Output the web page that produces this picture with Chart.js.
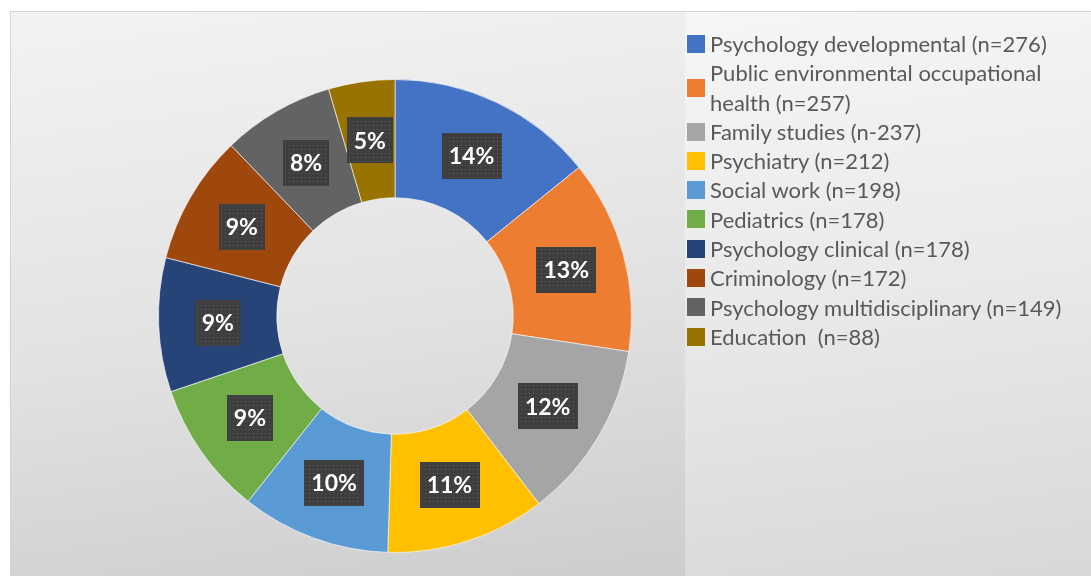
<!DOCTYPE html>
<html>
<head>
<meta charset="utf-8">
<script src="https://cdn.jsdelivr.net/npm/chart.js@4/dist/chart.umd.min.js"></script>
<style>
  html, body { margin: 0; padding: 0; background: #fff; }
  #wrap { position: relative; width: 1091px; height: 576px; overflow: hidden; }
  #bg { position: absolute; left: 10px; top: 11px; right: 0; bottom: 0;
        background: linear-gradient(172deg, #f3f3f3 0%, #e2e2e2 50%, #c9c9c9 100%);
        border-top: 1px solid #d4d4d4; border-left: 1px solid #d4d4d4; }
  #legendBg { position: absolute; left: 685px; top: 12px; right: 0; bottom: 0;
        background: linear-gradient(172deg, #f6f6f6 0%, #e9e9e9 50%, #d8d8d8 100%); }
  canvas { position: absolute; left: 0; top: 0; }
  #legend { position: absolute; left: 687px; top: 29px; font-family: Lato, "Open Sans", sans-serif;
            font-size: 22px; color: #595959; }
  .item { display: flex; align-items: center; line-height: 29.3px; }
  .box { width: 18px; height: 18px; margin-right: 5px; flex: none; }
</style>
</head>
<body>
<div id="wrap">
  <div id="bg"></div>
  <div id="legendBg"></div>
  <canvas id="DonutChart" width="1091" height="576"></canvas>
  <div id="legend"></div>
</div>
<script>
// categories (legend lines), counts and colours
const categories = [
  ['Psychology developmental (n=276)'],
  ['Public environmental occupational', 'health (n=257)'],
  ['Family studies (n-237)'],
  ['Psychiatry (n=212)'],
  ['Social work (n=198)'],
  ['Pediatrics (n=178)'],
  ['Psychology clinical (n=178)'],
  ['Criminology (n=172)'],
  ['Psychology multidisciplinary (n=149)'],
  ['Education\u00a0 (n=88)']
];
const counts = [276, 257, 237, 212, 198, 178, 178, 172, 149, 88];
const colors = ['#4472C4', '#ED7D31', '#A5A5A5', '#FFC000', '#5B9BD5',
                '#70AD47', '#264478', '#9E480E', '#636363', '#997300'];

const total = counts.reduce((a, b) => a + b, 0);
const pctLabels = counts.map(v => Math.round(v / total * 100) + '%');

// html legend
const legendEl = document.getElementById('legend');
categories.forEach((lines, i) => {
  const row = document.createElement('div');
  row.className = 'item';
  row.innerHTML = '<span class="box" style="background:' + colors[i] + '"></span><span>' + lines.join('<br>') + '</span>';
  legendEl.appendChild(row);
});

// dotted dark fill for the label boxes
const pc = document.createElement('canvas');
pc.width = 4; pc.height = 4;
const pctx = pc.getContext('2d');
pctx.fillStyle = '#3e3e3e';
pctx.fillRect(0, 0, 4, 4);
pctx.fillStyle = '#5c5c5c';
pctx.fillRect(1, 1, 1, 1);

const labelBoxes = {
  id: 'labelBoxes',
  afterDatasetsDraw(chart) {
    const ctx = chart.ctx;
    const pattern = ctx.createPattern(pc, 'repeat');
    const meta = chart.getDatasetMeta(0);
    ctx.save();
    ctx.font = 'bold 23px Lato, "Open Sans", sans-serif';
    ctx.textAlign = 'center';
    ctx.textBaseline = 'middle';
    meta.data.forEach((arc, i) => {
      const p = arc.tooltipPosition();
      const t = pctLabels[i];
      const w = ctx.measureText(t).width + 14;
      const h = 46;
      ctx.fillStyle = pattern;
      ctx.fillRect(Math.round(p.x - w / 2), Math.round(p.y - h / 2), Math.round(w), h);
      ctx.fillStyle = '#ffffff';
      ctx.fillText(t, p.x, p.y + 1);
    });
    ctx.restore();
  }
};

const config = {
  type: 'doughnut',
  data: {
    labels: categories.map(l => l.join(' ')),
    datasets: [{
      data: counts,
      backgroundColor: colors,
      borderColor: 'rgba(255,255,255,0.6)',
      borderWidth: 1
    }]
  },
  options: {
    responsive: false,
    animation: false,
    cutout: '50%',
    layout: { padding: { left: 158, right: 459, top: 79, bottom: 23 } },
    plugins: {
      legend: { display: false },
      tooltip: { enabled: false }
    }
  },
  plugins: [labelBoxes]
};

new Chart(document.getElementById('DonutChart'), config);
</script>
</body>
</html>
